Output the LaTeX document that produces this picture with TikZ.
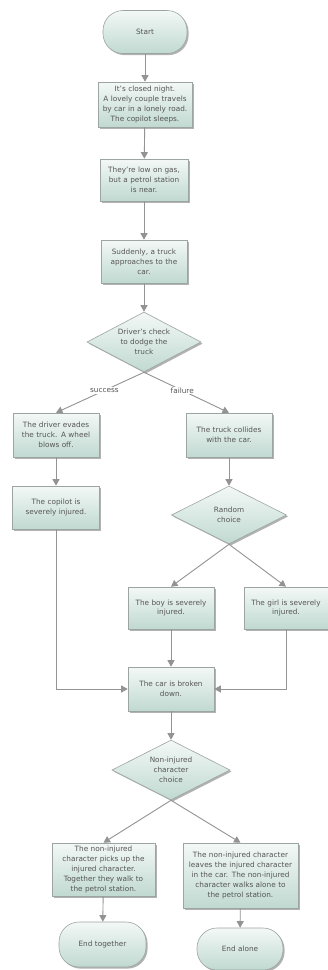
\documentclass[tikz,border=0pt]{standalone}
\usepackage{fontspec}
\setmainfont{DejaVu Sans}
\usetikzlibrary{shapes.geometric,shadows,arrows.meta}
\definecolor{boxtop}{HTML}{F3F8F6}
\definecolor{boxbot}{HTML}{C0D9D1}
\definecolor{boxline}{HTML}{9CA5A2}
\definecolor{txt}{HTML}{555555}
\definecolor{conn}{HTML}{939393}

\tikzset{
  base/.style={draw=boxline, line width=0.6pt, top color=boxtop, bottom color=boxbot,
    text=txt, font=\fontsize{7.3}{9.8}\selectfont, align=center,
    drop shadow={shadow xshift=1.6pt, shadow yshift=-1.6pt, fill=black, opacity=0.3}},
  stepbox/.style 2 args={base, rectangle, inner xsep=0pt, inner ysep=0pt,
    text width=#1pt, minimum height=#2pt},
  terminal/.style 2 args={base, rectangle, rounded corners=20pt, inner xsep=0pt,
    text width=#1pt, minimum height=#2pt},
  choice/.style 2 args={base, diamond, inner sep=-3pt, aspect=1.9,
    minimum width=#1pt, minimum height=#2pt},
  link/.style={draw=conn, line width=0.9pt,
    -{Triangle[length=6.5pt,width=7pt,fill=conn]}},
  tag/.style={fill=white, text=txt, font=\fontsize{7.3}{8}\selectfont, inner sep=1pt}
}

\begin{document}
\begin{tikzpicture}[x=1pt,y=-1pt]
  \useasboundingbox[fill=white] (0,0) rectangle (328,970);

  % main column
  \node[terminal={84}{43}] (start) at (145,32) {Start};
  \node[stepbox={94}{45}] (night) at (145,104.5)
    {It's closed night.\\A lovely couple travels\\by car in a lonely road.\\The copilot sleeps.};
  \node[stepbox={88}{42}] (gas) at (144,180)
    {They're low on gas,\\but a petrol station\\is near.};
  \node[stepbox={86}{43}] (truck) at (144,261.5)
    {Suddenly, a truck\\approaches to the\\car.};
  \node[choice={114}{60}] (dodge) at (144,342)
    {Driver's check\\to dodge the\\truck};

  % success branch
  \node[stepbox={86}{44}] (evade) at (56,435)
    {The driver evades\\the truck. A wheel\\blows off.};
  \node[stepbox={87}{43}] (copilot) at (56,507.5)
    {The copilot is\\severely injured.};

  % failure branch
  \node[stepbox={86}{44}] (collide) at (229,435)
    {The truck collides\\with the car.};
  \node[choice={115}{58}] (random) at (229,515)
    {Random\\choice};
  \node[stepbox={86}{42}] (boy) at (171,608)
    {The boy is severely\\injured.};
  \node[stepbox={84}{42}] (girl) at (286,608)
    {The girl is severely\\injured.};

  % common path
  \node[stepbox={86}{44}] (broken) at (171,689)
    {The car is broken\\down.};
  \node[choice={118}{60}] (who) at (171,770)
    {Non-injured\\character\\choice};
  \node[stepbox={103}{53}] (together) at (103.5,869.5)
    {The non-injured\\character picks up the\\injured character.\\Together they walk to\\the petrol station.};
  \node[stepbox={115}{65}] (alone) at (240.5,875.5)
    {The non-injured character\\leaves the injured character\\in the car. The non-injured\\character walks alone to\\the petrol station.};
  \node[terminal={87}{45}] (endT) at (102.5,944.5) {End together};
  \node[terminal={86}{42}] (endA) at (240,949) {End alone};

  % connectors
  \draw[link] (start) -- (night);
  \draw[link] (night) -- (gas);
  \draw[link] (gas) -- (truck);
  \draw[link] (truck) -- (dodge);
  \draw[link] (dodge.south) -- node[tag,pos=0.45] {success} (evade.north);
  \draw[link] (dodge.south) -- node[tag,pos=0.45] {failure} (collide.north);
  \draw[link] (evade) -- (copilot);
  \draw[link] (collide) -- (random);
  \draw[link] (random.south) -- (boy.north);
  \draw[link] (random.south) -- (girl.north);
  \draw[link] (boy) -- (broken);
  \draw[link] (copilot.south) |- (broken.west);
  \draw[link] (girl.south) |- (broken.east);
  \draw[link] (broken) -- (who);
  \draw[link] (who.south) -- (together.north);
  \draw[link] (who.south) -- (alone.north);
  \draw[link] (together) -- (endT);
  \draw[link] (alone) -- (endA);
\end{tikzpicture}
\end{document}
